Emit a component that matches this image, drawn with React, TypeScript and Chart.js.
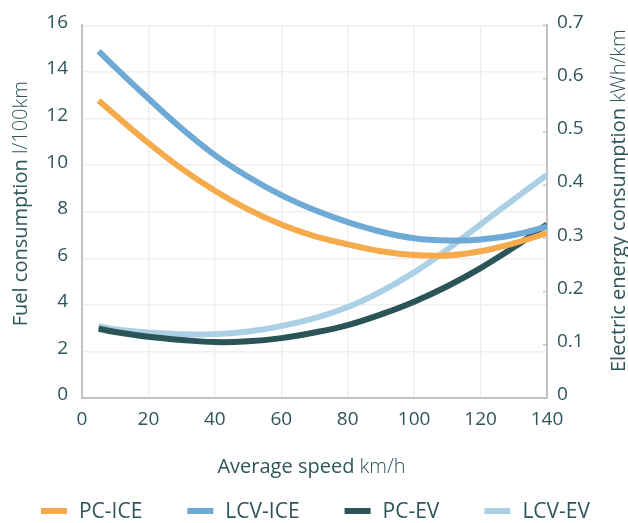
import React, { useEffect, useRef } from "react";
import { Chart, registerables } from "chart.js";
Chart.register(...registerables);

// Average speed (km/h) and readings for each series
const speeds = [5, 10, 20, 30, 40, 50, 60, 70, 80, 90, 100, 110, 120, 130, 140];
const pcIce = [12.78, 12.15, 10.95, 9.85, 8.9, 8.1, 7.45, 6.95, 6.6, 6.3, 6.14, 6.12, 6.3, 6.64, 7.08];
const lcvIce = [14.9, 14.2, 12.86, 11.57, 10.43, 9.5, 8.71, 8.07, 7.55, 7.14, 6.86, 6.76, 6.81, 7.0, 7.36];
const pcEv = [0.13, 0.124, 0.115, 0.109, 0.105, 0.1065, 0.1125, 0.123, 0.137, 0.157, 0.181, 0.21, 0.244, 0.283, 0.326];
const lcvEv = [0.135, 0.129, 0.123, 0.12, 0.12, 0.125, 0.135, 0.15, 0.171, 0.2, 0.236, 0.279, 0.326, 0.373, 0.419];

const seriesNames = ["PC-ICE", "LCV-ICE", "PC-EV", "LCV-EV"];
const seriesColors = ["#f5aa4c", "#6eaad5", "#2a5457", "#abd0e6"];

const xTitle = ["Average speed", "km/h"];
const yTitle = ["Fuel consumption", "l/100km"];
const y1Title = ["Electric energy consumption", "kWh/km"];

const TEXT = "#2e5559";
const FONT = "'Open Sans', sans-serif";

const titlePlugin = {
  id: "customTitles",
  afterDraw(chart: any) {
    const ctx = chart.ctx as CanvasRenderingContext2D;
    const area = chart.chartArea;
    ctx.save();
    ctx.fillStyle = TEXT;
    ctx.textBaseline = "middle";

    const drawParts = (parts: string[], size: number) => {
      ctx.font = `400 ${size}px ${FONT}`;
      const a = ctx.measureText(parts[0] + " ").width;
      ctx.font = `300 ${size}px ${FONT}`;
      const b = ctx.measureText(parts[1]).width;
      const total = a + b;
      ctx.textAlign = "left";
      ctx.font = `400 ${size}px ${FONT}`;
      ctx.fillText(parts[0], -total / 2, 0);
      ctx.font = `300 ${size}px ${FONT}`;
      ctx.fillText(parts[1], -total / 2 + a, 0);
    };

    // x title
    ctx.save();
    ctx.translate((area.left + area.right) / 2 - 3, 467);
    drawParts(xTitle, 20);
    ctx.restore();

    // left title
    ctx.save();
    ctx.translate(21, (area.top + area.bottom) / 2 - 8);
    ctx.rotate(-Math.PI / 2);
    drawParts(yTitle, 20);
    ctx.restore();

    // right title
    ctx.save();
    ctx.translate(619, (area.top + area.bottom) / 2 - 11);
    ctx.rotate(-Math.PI / 2);
    drawParts(y1Title, 20);
    ctx.restore();

    // small inner tick marks on the right axis
    const y1 = chart.scales.y1;
    ctx.strokeStyle = "#c4c4c4";
    ctx.lineWidth = 1.5;
    y1.ticks.forEach((t: any) => {
      const py = y1.getPixelForValue(t.value);
      ctx.beginPath();
      ctx.moveTo(area.right - 4, py);
      ctx.lineTo(area.right, py);
      ctx.stroke();
    });

    // legend
    ctx.font = `400 21px ${FONT}`;
    ctx.textAlign = "left";
    const boxW = 26;
    const boxGap = 12;
    const itemGap = 45;
    const widths = seriesNames.map((n) => boxW + boxGap + ctx.measureText(n).width);
    const total = widths.reduce((s, w) => s + w, 0) + itemGap * (seriesNames.length - 1);
    let x = 315.5 - total / 2;
    const ly = 511;
    seriesNames.forEach((n, i) => {
      ctx.fillStyle = seriesColors[i];
      ctx.fillRect(x, ly - 3, boxW, 6);
      ctx.fillStyle = TEXT;
      ctx.fillText(n, x + boxW + boxGap, ly + 1);
      x += widths[i] + itemGap;
    });
    ctx.restore();
  },
};

export default function App() {
  const ref = useRef<HTMLCanvasElement>(null);
  useEffect(() => {
    if (!ref.current) return;
    const mk = (vals: number[]) => speeds.map((x, i) => ({ x, y: vals[i] }));
    const all = [pcIce, lcvIce, pcEv, lcvEv];
    const tickFont = { family: FONT, size: 19 };
    const chart = new Chart(ref.current, {
      type: "line",
      data: {
        datasets: all.map((vals, i) => ({
          label: seriesNames[i],
          data: mk(vals),
          borderColor: seriesColors[i],
          backgroundColor: seriesColors[i],
          borderWidth: 6,
          pointRadius: 0,
          tension: 0.4,
          yAxisID: i < 2 ? "y" : "y1",
        })),
      },
      plugins: [titlePlugin],
      options: {
        animation: false,
        responsive: true,
        maintainAspectRatio: false,
        layout: { padding: { left: 0, right: 0, top: 24, bottom: 0 } },
        plugins: {
          tooltip: { enabled: false },
          legend: { display: false },
        },
        scales: {
          x: {
            type: "linear",
            min: 0,
            max: 140,
            afterFit: (s: any) => {
              s.height = 125;
            },
            ticks: { stepSize: 20, color: TEXT, font: tickFont, padding: 10 },
            grid: { color: "#efefef", lineWidth: 1.5, drawTicks: false },
            border: { color: "#c2c2c2", width: 2 },
          },
          y: {
            position: "left",
            min: 0,
            max: 16,
            afterFit: (s: any) => {
              s.width = 82;
            },
            ticks: { stepSize: 2, color: TEXT, font: tickFont, padding: 14, labelOffset: -3 },
            grid: { color: "#efefef", lineWidth: 1.5, drawTicks: false },
            border: { color: "#c2c2c2", width: 2 },
          },
          y1: {
            position: "right",
            min: 0,
            max: 0.7,
            afterFit: (s: any) => {
              s.width = 81;
            },
            ticks: { stepSize: 0.1, color: TEXT, font: tickFont, padding: 10, labelOffset: -3 },
            grid: { drawOnChartArea: false, drawTicks: false },
            border: { color: "#c2c2c2", width: 2 },
          },
        },
      },
    });
    return () => chart.destroy();
  }, []);
  return (
    <div style={{ position: "fixed", left: 0, top: 0, width: 628, height: 523 }}>
      <canvas ref={ref} />
    </div>
  );
}
